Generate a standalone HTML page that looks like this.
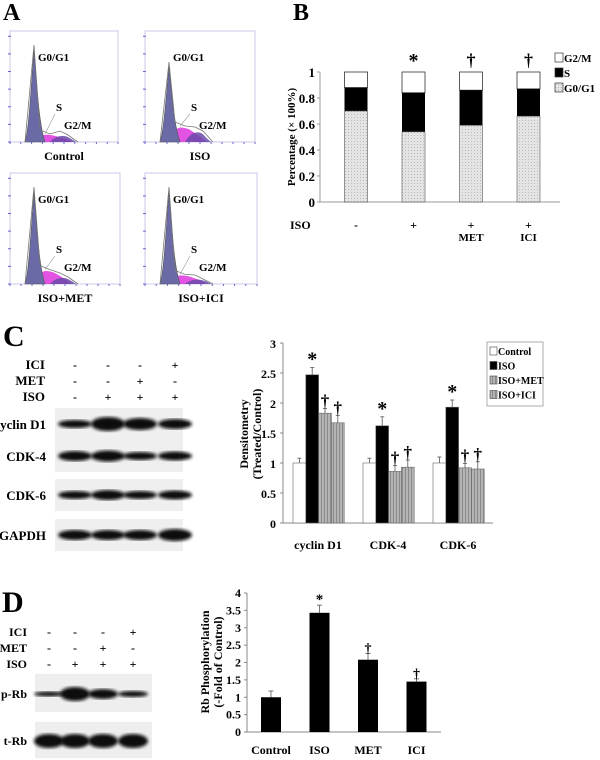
<!DOCTYPE html>
<html><head><meta charset="utf-8"><style>
html,body{margin:0;padding:0;background:#fff;}
svg{display:block;font-family:"Liberation Serif",serif;}
</style></head><body>
<svg width="600" height="760" viewBox="0 0 600 760">
<defs>
<pattern id="dots" width="3" height="3" patternUnits="userSpaceOnUse"><rect width="3" height="3" fill="#e4e4e4"/><rect width="1" height="1" fill="#b8b8b8"/></pattern>
<pattern id="vstripe" width="3" height="3" patternUnits="userSpaceOnUse"><rect width="3" height="3" fill="#b4b4b4"/><rect width="1" height="3" fill="#8a8a8a"/></pattern>
<filter id="blur"><feGaussianBlur stdDeviation="1.6"/></filter>
</defs>
<g id="panelA"></g>
<g id="panelB"></g>
<g id="panelC"></g>
<g id="panelD"></g>
</svg>
<script>
// ---- Panel B data ----
const bCats = ["-", "+", "+", "+"];
const bSub = ["", "", "MET", "ICI"];
const bG0G1 = [0.70, 0.54, 0.59, 0.66];
const bS = [0.18, 0.30, 0.27, 0.21];
const bMarks = ["", "*", "†", "†"];
const bTicks = [0, 0.2, 0.4, 0.6, 0.8, 1];
// ---- Panel C data ----
const cCats = ["cyclin D1", "CDK-4", "CDK-6"];
const cSeries = ["Control", "ISO", "ISO+MET", "ISO+ICI"];
const cControl = [1.0, 1.0, 1.0];
const cISO = [2.47, 1.62, 1.93];
const cMET = [1.83, 0.86, 0.92];
const cICI = [1.67, 0.93, 0.90];
const cErrControl = [0.08, 0.08, 0.10];
const cErrISO = [0.12, 0.15, 0.12];
const cErrMET = [0.08, 0.10, 0.07];
const cErrICI = [0.12, 0.12, 0.12];
const cTicks = [0, 0.5, 1, 1.5, 2, 2.5, 3];
// ---- Panel D data ----
const dCats = ["Control", "ISO", "MET", "ICI"];
const dVals = [1.0, 3.43, 2.08, 1.45];
const dErr = [0.18, 0.22, 0.18, 0.08];
const dMarks = ["", "*", "†", "†"];
const dTicks = [0, 0.5, 1, 1.5, 2, 2.5, 3, 3.5, 4];

const NS = "http://www.w3.org/2000/svg";
function mk(parent, tag, attrs, text) {
  const e = document.createElementNS(NS, tag);
  for (const k in attrs) e.setAttribute(k, attrs[k]);
  if (text !== undefined) e.textContent = text;
  parent.appendChild(e);
  return e;
}
function txt(parent, x, y, s, size, anchor, name, extra) {
  const t = mk(parent, "text", Object.assign({x: x, y: y, "font-size": size, "font-weight": "bold", "text-anchor": anchor || "start"}, extra || {}), s);
  
  
  return t;
}

// ================= Panel A =================
const A = document.getElementById("panelA");
txt(A, 3, 20, "A", 24, "start", "panel-a-label");
const hist = [
  {x: 10, y: 31, w: 108, h: 111, label: "Control", s: 0.5, g2: 0.7},
  {x: 145, y: 31, w: 110, h: 111, label: "ISO", s: 1.0, g2: 1.1},
  {x: 10, y: 173, w: 110, h: 111, label: "ISO+MET", s: 0.9, g2: 0.7},
  {x: 145, y: 173, w: 112, h: 111, label: "ISO+ICI", s: 0.6, g2: 0.5}
];
hist.forEach(function (hh, i) {
  const g = mk(A, "g", {transform: "translate(" + hh.x + "," + hh.y + ")"});
  
  
  mk(g, "rect", {x: 0, y: 0, width: hh.w, height: hh.h, fill: "#fff", stroke: "#c8c8e8", "stroke-width": 1});
  for (let k = 0; k <= 6; k++) mk(g, "line", {x1: -2, x2: 1, y1: hh.h - k * hh.h / 6.3, y2: hh.h - k * hh.h / 6.3, stroke: "#6666cc", "stroke-width": 1});
  for (let k = 0; k <= 10; k++) mk(g, "line", {x1: k * hh.w / 10, x2: k * hh.w / 10, y1: hh.h, y2: hh.h + 2, stroke: "#6666cc"});
  const b = hh.h;
  const sH = 16 * hh.s, gH = 10 * hh.g2;
  mk(g, "path", {d: "M26 " + b + " C30 " + (b - sH) + " 34 " + (b - sH) + " 44 " + (b - sH * 0.8) + " C52 " + (b - sH * 0.5) + " 56 " + (b - 4) + " 62 " + b + " Z", fill: "#e040e0", opacity: 0.9});
  mk(g, "path", {d: "M40 " + b + " C46 " + (b - gH) + " 54 " + (b - gH) + " 58 " + (b - gH * 0.7) + " C62 " + (b - 3) + " 66 " + b + " 66 " + b + " Z", fill: "#6a4aa8", opacity: 0.85});
  const pk = i === 1 ? 75 : 92;
  mk(g, "path", {d: "M15 " + b + " C19 " + (b - 12) + " 21 " + (b - pk * 0.6) + " 24 " + (b - pk) + " C27 " + (b - pk * 0.6) + " 29 " + (b - 18) + " 35 " + b + " Z", fill: "#6a6aa6", stroke: "#555", "stroke-width": 0.6});
  mk(g, "path", {d: "M15 " + b + " L24 " + (b - pk - 5) + " L30 " + (b - sH - 4) + " L40 " + (b - sH) + " L50 " + (b - gH - 4) + " L58 " + (b - gH) + " L68 " + b, fill: "none", stroke: "#777", "stroke-width": 0.8});
  txt(g, 28, 30, "G0/G1", 11, "start", "g0g1-label");
  txt(g, 46, 80, "S", 11, "start", "s-label");
  mk(g, "line", {x1: 45, y1: 83, x2: 35, y2: b - sH, stroke: "#999", "stroke-width": 0.6});
  txt(g, 54, 98, "G2/M", 11, "start", "g2m-label");
  txt(A, hh.x + hh.w / 2, hh.y + hh.h + 18, hh.label, 12, "middle", "histogram-caption");
});

// ================= Panel B =================
const B = document.getElementById("panelB");
txt(B, 293, 20, "B", 24, "start", "panel-b-label");
const bx0 = 320, bx1 = 560, by0 = 202, by1 = 72;
function bY(v) { return by0 - v * (by0 - by1); }
function bX(i) { return 356 + i * 57.5; }
mk(B, "line", {x1: bx0, y1: by1, x2: bx0, y2: by0, stroke: "#999"});
mk(B, "line", {x1: bx0, y1: by0, x2: bx1, y2: by0, stroke: "#999"});
bTicks.forEach(function (t) {
  mk(B, "line", {x1: bx0 - 3, x2: bx0, y1: bY(t), y2: bY(t), stroke: "#999"});
  txt(B, bx0 - 5, bY(t) + 5, String(t), 13, "end", "b-y-tick");
});
txt(B, 295, 137, "Percentage (× 100%)", 11, "middle", "b-y-axis-title", {transform: "rotate(-90 295 137)"});
bCats.forEach(function (c, i) {
  const cx = bX(i), w = 23;
  const top = bG0G1[i] + bS[i];
  const r1 = mk(B, "rect", {x: cx - w / 2, y: bY(1), width: w, height: bY(top) - bY(1), fill: "#fff", stroke: "#333", "stroke-width": 0.8});
  
  
  const r2 = mk(B, "rect", {x: cx - w / 2, y: bY(top), width: w, height: bY(bG0G1[i]) - bY(top), fill: "#000"});
  
  
  const r3 = mk(B, "rect", {x: cx - w / 2, y: bY(bG0G1[i]), width: w, height: bY(0) - bY(bG0G1[i]), fill: "url(#dots)", stroke: "#555", "stroke-width": 0.6});
  
  
  if (bMarks[i] === "*") txt(B, cx, bY(1) - 5, "*", 20, "middle", "significance-star");
  else if (bMarks[i]) txt(B, cx, bY(1) - 6, "†", 18, "middle", "significance-dagger");
  txt(B, cx, 229, c, 12, "middle", "b-iso-sign");
  if (bSub[i]) txt(B, cx, 241, bSub[i], 11, "middle", "b-treatment");
});
txt(B, 290, 229, "ISO", 12, "start", "b-iso-label");
const bLeg = [["G2/M", "#fff"], ["S", "#000"], ["G0/G1", "url(#dots)"]];
bLeg.forEach(function (l, k) {
  const y = 53 + k * 15;
  const r = mk(B, "rect", {x: 555, y: y, width: 8, height: 9, fill: l[1], stroke: "#333", "stroke-width": 0.7});
  
  
  txt(B, 564, y + 9, l[0], 11, "start", "legend-entry");
});

// ================= Panel C =================
const C = document.getElementById("panelC");
txt(C, 3, 346, "C", 30, "start", "panel-c-label");
const cLanes = [75, 108, 140, 175];
const cRows = [["ICI", ["-", "-", "-", "+"], 369], ["MET", ["-", "-", "+", "-"], 385], ["ISO", ["-", "+", "+", "+"], 401]];
cRows.forEach(function (r) {
  txt(C, 45, r[2], r[0], 13, "end", "c-row-label");
  r[1].forEach(function (s, j) { txt(C, cLanes[j], r[2], s, 12, "middle", "c-lane-sign"); });
});
const blots = [
  ["cyclin D1", 408, [[4, 2], [7, 4.5], [6, 3.5], [5, 3]]],
  ["CDK-4", 440, [[5, 3], [5.5, 3.5], [4, 2], [4.5, 3]]],
  ["CDK-6", 479, [[4, 2], [5, 3], [4, 2], [4.5, 2.5]]],
  ["GAPDH", 519, [[5, 3.5], [5, 3.5], [5, 3.5], [6, 4]]]
];
blots.forEach(function (bl) {
  const g = mk(C, "g", {});
  
  
  mk(g, "rect", {x: 55, y: bl[1], width: 128, height: 32, fill: "#efefef"});
  bl[2].forEach(function (bb, j) {
    mk(g, "ellipse", {cx: cLanes[j], cy: bl[1] + 16, rx: 17, ry: bb[0], fill: "#111", filter: "url(#blur)"});
  });
  txt(C, 46, bl[1] + 21, bl[0], 13, "end", "blot-label");
});
const cx0 = 283, cx1 = 493, cy0 = 523, cy1 = 343;
function cY(v) { return cy0 - v * (cy0 - cy1) / 3; }
function cGX(i) { return 293 + i * 70; }
mk(C, "line", {x1: cx0, y1: cy1, x2: cx0, y2: cy0, stroke: "#888"});
mk(C, "line", {x1: cx0, y1: cy0, x2: cx1, y2: cy0, stroke: "#888"});
cTicks.forEach(function (t) {
  mk(C, "line", {x1: cx0 - 3, x2: cx0, y1: cY(t), y2: cY(t), stroke: "#888"});
  txt(C, 276, cY(t) + 5, String(t), 12, "end", "c-y-tick");
});
txt(C, 248, 434, "Densitometry", 12, "middle", "c-y-axis-title", {transform: "rotate(-90 248 434)"});
txt(C, 261, 434, "(Treated/Control)", 12, "middle", "c-y-axis-title-2", {transform: "rotate(-90 261 434)"});
const cVals = [cControl, cISO, cMET, cICI];
const cErrs = [cErrControl, cErrISO, cErrMET, cErrICI];
const cFills = ["#fff", "#000", "url(#vstripe)", "url(#vstripe)"];
cCats.forEach(function (cat, i) {
  cVals.forEach(function (ser, s) {
    const x = cGX(i) + s * 12.8, w = 12.8, v = ser[i], e = cErrs[s][i];
    mk(C, "line", {x1: x + w / 2, x2: x + w / 2, y1: cY(v), y2: cY(v + e), stroke: "#555", "stroke-width": 0.8});
    mk(C, "line", {x1: x + w / 2 - 2, x2: x + w / 2 + 2, y1: cY(v + e), y2: cY(v + e), stroke: "#555", "stroke-width": 0.8});
    const r = mk(C, "rect", {x: x, y: cY(v), width: w, height: cY(0) - cY(v), fill: cFills[s], stroke: "#666", "stroke-width": 0.6});
    
    
    if (s === 1) txt(C, x + w / 2, cY(v + e) - 2, "*", 20, "middle", "significance-star");
    if (s >= 2) txt(C, x + w / 2, cY(v + e) - 2, "†", 17, "middle", "significance-dagger");
  });
  txt(C, cGX(i) + 25, 549, cat, 12, "middle", "c-x-tick");
});
mk(C, "rect", {x: 487, y: 342, width: 56, height: 64, fill: "#fff", stroke: "#999", "stroke-width": 0.8});
cSeries.forEach(function (s, k) {
  const y = 347 + k * 14.5;
  const r = mk(C, "rect", {x: 490, y: y, width: 7, height: 8, fill: cFills[k], stroke: "#444", "stroke-width": 0.6});
  
  
  txt(C, 498, y + 8, s, 10, "start", "legend-entry");
});

// ================= Panel D =================
const D = document.getElementById("panelD");
txt(D, 2, 612, "D", 30, "start", "panel-d-label");
const dLanes = [49, 75, 103, 133];
const dRows = [["ICI", ["-", "-", "-", "+"], 636], ["MET", ["-", "-", "+", "-"], 652], ["ISO", ["-", "+", "+", "+"], 668]];
dRows.forEach(function (r) {
  txt(D, 27, r[2], r[0], 12, "end", "d-row-label");
  r[1].forEach(function (s, j) { txt(D, dLanes[j], r[2], s, 12, "middle", "d-lane-sign"); });
});
const dBlots = [["p-Rb", 674, 38, [[2.5, 2], [7, 6], [5, 4], [3, 2]]], ["t-Rb", 722, 36, [[7, 5], [7, 5], [7, 5], [7, 5]]]];
dBlots.forEach(function (bl) {
  const g = mk(D, "g", {});
  
  
  mk(g, "rect", {x: 35, y: bl[1], width: 117, height: bl[2], fill: "#eeeeee"});
  bl[3].forEach(function (bb, j) {
    mk(g, "ellipse", {cx: dLanes[j], cy: bl[1] + bl[2] / 2 + 1, rx: 15, ry: bb[0], fill: "#111", filter: "url(#blur)"});
  });
  txt(D, 27, bl[1] + bl[2] / 2 + 5, bl[0], 12, "end", "blot-label");
});
const dx0 = 247, dx1 = 441, dy0 = 732, dy1 = 593;
function dY(v) { return dy0 - v * (dy0 - dy1) / 4; }
function dX(i) { return 271 + i * 48.5; }
mk(D, "line", {x1: dx0, y1: dy1, x2: dx0, y2: dy0, stroke: "#888"});
mk(D, "line", {x1: dx0, y1: dy0, x2: dx1, y2: dy0, stroke: "#888"});
dTicks.forEach(function (t) {
  mk(D, "line", {x1: dx0 - 3, x2: dx0, y1: dY(t), y2: dY(t), stroke: "#888"});
  txt(D, 241, dY(t) + 4, String(t), 12, "end", "d-y-tick");
});
txt(D, 209, 662, "Rb Phosphorylation", 12, "middle", "d-y-axis-title", {transform: "rotate(-90 209 662)"});
txt(D, 222, 662, "(-Fold of Control)", 12, "middle", "d-y-axis-title-2", {transform: "rotate(-90 222 662)"});
dCats.forEach(function (c, i) {
  const x = dX(i), w = 20, v = dVals[i], e = dErr[i];
  mk(D, "line", {x1: x, x2: x, y1: dY(v), y2: dY(v + e), stroke: "#555", "stroke-width": 0.8});
  mk(D, "line", {x1: x - 2.5, x2: x + 2.5, y1: dY(v + e), y2: dY(v + e), stroke: "#555", "stroke-width": 0.8});
  const r = mk(D, "rect", {x: x - w / 2, y: dY(v), width: w, height: dY(0) - dY(v), fill: "#000"});
  
  
  if (dMarks[i] === "*") txt(D, x, dY(v + e) - 1, "*", 15, "middle", "significance-star");
  else if (dMarks[i]) txt(D, x, dY(v + e) - 1, "†", 14, "middle", "significance-dagger");
  txt(D, x, 754, c, 12, "middle", "d-x-tick");
});
</script>
</body></html>
